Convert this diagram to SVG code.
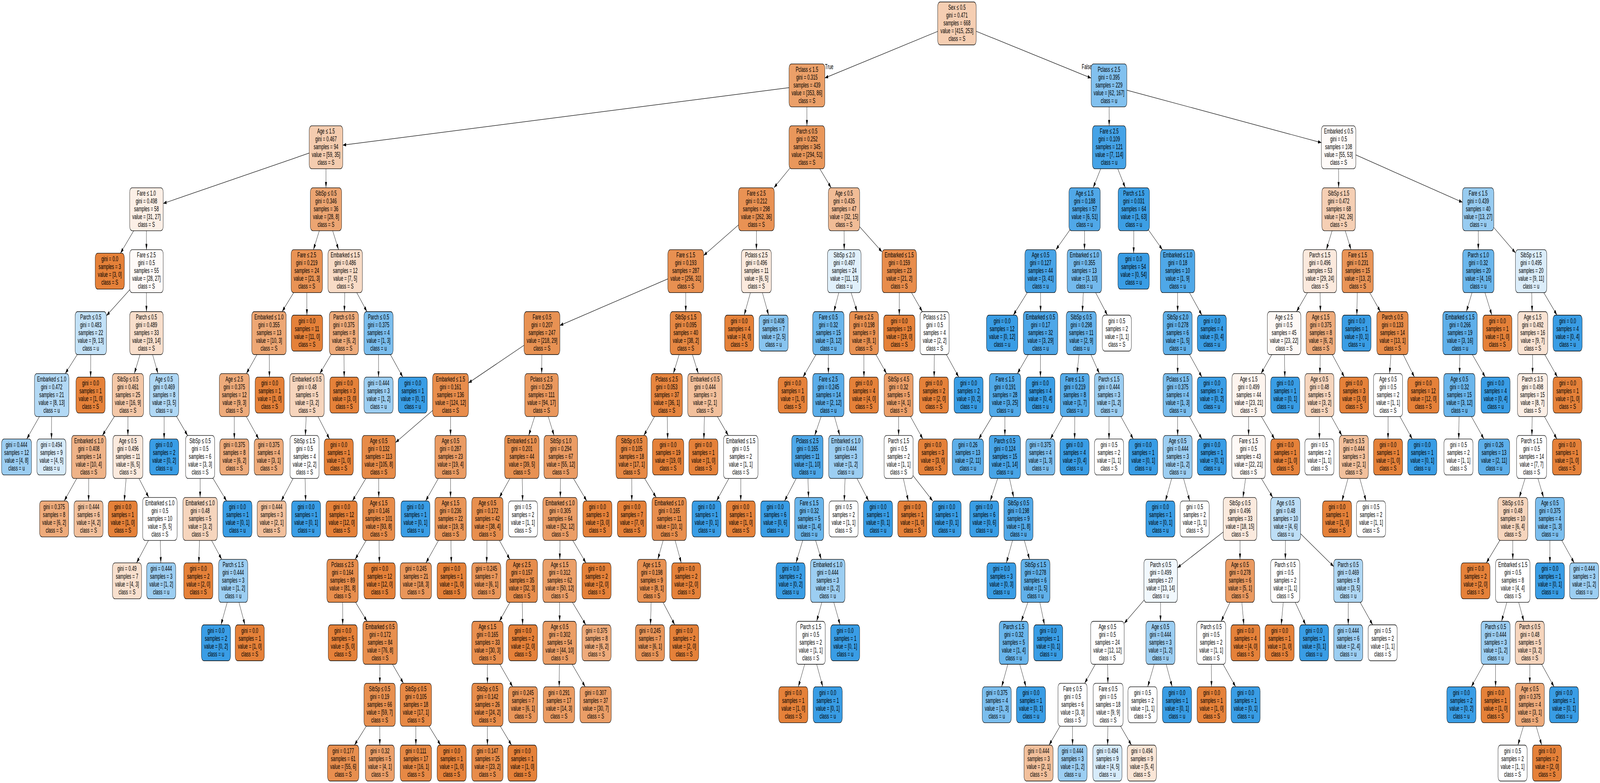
<svg xmlns="http://www.w3.org/2000/svg" width="7156" height="2005" viewBox="0 0 7156 2005" preserveAspectRatio="none">
<style>
svg{width:100vw;height:100vh;display:block}
text{font-family:"Liberation Sans",Arial,Helvetica,sans-serif;font-size:18.5px;text-anchor:middle;fill:#000}
rect.n{stroke:#000;stroke-width:1.3}
#edges path{stroke:#000;stroke-width:1.2;fill:none;marker-end:url(#ah)}
#edges text{text-anchor:start}
</style>
<defs>
<marker id="ah" markerWidth="16" markerHeight="10" refX="15" refY="4.5" orient="auto" markerUnits="userSpaceOnUse"><path d="M0 0L15 4.5L0 9z" fill="#000"/></marker>
</defs>
<rect width="7156" height="2005" fill="#fff"/>
<g id="edges">
<path d="M4280 60L3689 199.7"/><path d="M4280 60L4880 199.9"/><path d="M3609 218.6L1533 371.7"/><path d="M3609 218.6L3609 322.2"/><path d="M1458 377.2L730 521"/><path d="M1458 377.2L1458 480.8"/><path d="M655 535.8L538.6 648.4"/><path d="M655 535.8L655 639.4"/><path d="M655 694.4L476 808.4"/><path d="M655 694.4L655 798"/><path d="M406 853L291.7 956.6"/><path d="M406 853L405.3 965.6"/><path d="M231 1011.6L119.5 1124.2"/><path d="M231 1011.6L230.3 1124.2"/><path d="M655 853L600.8 956.6"/><path d="M655 853L706.6 956.6"/><path d="M572 1011.6L457.7 1115.2"/><path d="M572 1011.6L572 1115.2"/><path d="M397 1170.2L287 1282.8"/><path d="M397 1170.2L396.3 1282.8"/><path d="M572 1170.2L555.7 1282.8"/><path d="M572 1170.2L665.4 1273.8"/><path d="M715 1328.8L610.6 1441.4"/><path d="M715 1328.8L719.3 1441.4"/><path d="M734 1011.6L734 1124.2"/><path d="M734 1011.6L839.2 1115.2"/><path d="M895 1170.2L895 1273.8"/><path d="M895 1170.2L1013.6 1282.8"/><path d="M895 1328.8L889.3 1441.4"/><path d="M895 1328.8L991.7 1432.4"/><path d="M1043 1487.4L988.3 1600"/><path d="M1043 1487.4L1095.5 1600"/><path d="M1458 535.8L1401.8 639.4"/><path d="M1458 535.8L1514.2 639.4"/><path d="M1372 694.4L1261.6 798"/><path d="M1372 694.4L1372.7 807"/><path d="M1203 853L1101.8 956.6"/><path d="M1203 853L1205.1 965.6"/><path d="M1048 1011.6L1048 1124.2"/><path d="M1048 1011.6L1157.3 1124.2"/><path d="M1544 694.4L1540.1 798"/><path d="M1544 694.4L1641.3 798"/><path d="M1538 853L1430.2 956.6"/><path d="M1538 853L1539.4 965.6"/><path d="M1373 1011.6L1365.8 1115.2"/><path d="M1373 1011.6L1473.8 1124.2"/><path d="M1362 1170.2L1257.6 1282.8"/><path d="M1362 1170.2L1367 1282.8"/><path d="M1693 853L1693 965.6"/><path d="M1693 853L1801.6 965.6"/>
<path d="M3609 377.2L3461.4 480.8"/><path d="M3609 377.2L3717.4 480.8"/><path d="M3383 535.8L3147 654.2"/><path d="M3383 535.8L3383 639.4"/><path d="M3067 694.4L2504 833.3"/><path d="M3067 694.4L3067 798"/><path d="M2424 853L2095 980.6"/><path d="M2424 853L2422.7 956.6"/><path d="M2015 1011.6L1769 1133.1"/><path d="M2015 1011.6L2015 1115.2"/><path d="M1694 1170.2L1576.1 1282.8"/><path d="M1694 1170.2L1694 1273.8"/><path d="M1694 1328.8L1588.2 1432.4"/><path d="M1694 1328.8L1696.8 1441.4"/><path d="M1532 1487.4L1532.7 1600"/><path d="M1532 1487.4L1641.7 1591"/><path d="M1700 1646L1698.7 1749.6"/><path d="M1700 1646L1804.5 1749.6"/><path d="M1698 1804.6L1585.2 1908"/><path d="M1698 1804.6L1698.7 1908"/><path d="M1860 1804.6L1860 1908"/><path d="M1860 1804.6L1970.7 1908"/><path d="M2015 1170.2L1903.5 1282.8"/><path d="M2015 1170.2L2015 1273.8"/><path d="M2015 1328.8L1905 1441.4"/><path d="M2015 1328.8L2018.5 1441.4"/><path d="M2422 1011.6L2364.5 1115.2"/><path d="M2422 1011.6L2478.2 1115.2"/><path d="M2334 1170.2L2233.4 1273.8"/><path d="M2334 1170.2L2337.5 1282.8"/><path d="M2180 1328.8L2176.5 1441.4"/><path d="M2180 1328.8L2280.6 1432.4"/><path d="M2334 1487.4L2233.4 1591"/><path d="M2334 1487.4L2337.5 1600"/><path d="M2180 1646L2180 1749.6"/><path d="M2180 1646L2292.9 1758.6"/><path d="M2180 1804.6L2180 1908"/><path d="M2180 1804.6L2288 1908"/><path d="M2508 1170.2L2506 1273.8"/><path d="M2508 1170.2L2624.4 1282.8"/><path d="M2505 1328.8L2503.7 1432.4"/><path d="M2505 1328.8L2620.7 1441.4"/><path d="M2503 1487.4L2503 1591"/><path d="M2503 1487.4L2620.1 1600"/><path d="M2503 1646L2500.9 1758.6"/><path d="M2503 1646L2617.3 1758.6"/><path d="M3067 853L3011.5 956.6"/><path d="M3067 853L3123.2 956.6"/><path d="M2982 1011.6L2879.4 1115.2"/><path d="M2982 1011.6L2986.3 1124.2"/><path d="M2825 1170.2L2825.7 1282.8"/><path d="M2825 1170.2L2934.7 1273.8"/><path d="M2993 1328.8L2942 1432.4"/><path d="M2993 1328.8L3047 1441.4"/><path d="M2915 1487.4L2909.3 1600"/><path d="M2915 1487.4L3018 1600"/><path d="M3153 1011.6L3148 1124.2"/><path d="M3153 1011.6L3257.5 1115.2"/><path d="M3313 1170.2L3204.4 1282.8"/><path d="M3313 1170.2L3313 1282.8"/><path d="M3383 694.4L3328.3 807"/><path d="M3383 694.4L3437.7 807"/>
<path d="M3775 535.8L3775.7 639.4"/><path d="M3775 535.8L3945 645"/><path d="M3776 694.4L3729.6 798"/><path d="M3776 694.4L3833.5 798"/><path d="M3705 853L3591.4 965.6"/><path d="M3705 853L3705 956.6"/><path d="M3705 1011.6L3643.6 1115.2"/><path d="M3705 1011.6L3756 1115.2"/><path d="M3611 1170.2L3508.8 1282.8"/><path d="M3611 1170.2L3616.2 1273.8"/><path d="M3619 1328.8L3560.1 1441.4"/><path d="M3619 1328.8L3673.2 1432.4"/><path d="M3702 1487.4L3652.4 1591"/><path d="M3702 1487.4L3757.4 1600"/><path d="M3626 1646L3570.6 1758.6"/><path d="M3626 1646L3680 1758.6"/><path d="M3783 1170.2L3775.9 1282.8"/><path d="M3783 1170.2L3885.2 1282.8"/><path d="M3864 853L3864 965.6"/><path d="M3864 853L3965.2 956.6"/><path d="M4019 1011.6L4019 1115.2"/><path d="M4019 1011.6L4127.6 1124.2"/><path d="M4019 1170.2L4062.3 1282.8"/><path d="M4019 1170.2L4171.6 1282.8"/><path d="M4022 694.4L4022 807"/><path d="M4022 694.4L4125.2 798"/><path d="M4180 853L4177.9 965.6"/><path d="M4180 853L4287.9 965.6"/>
<path d="M4960 218.6L4960.7 322.2"/><path d="M4960 218.6L5910 365.3"/><path d="M4961 377.2L4889.1 480.8"/><path d="M4961 377.2L5032.9 480.8"/><path d="M4851 535.8L4722.3 639.4"/><path d="M4851 535.8L4850.3 639.4"/><path d="M4654 694.4L4531.9 807"/><path d="M4654 694.4L4654 798"/><path d="M4654 853L4550.1 956.6"/><path d="M4654 853L4653.3 965.6"/><path d="M4495 1011.6L4377.1 1124.2"/><path d="M4495 1011.6L4494.3 1115.2"/><path d="M4494 1170.2L4428.7 1282.8"/><path d="M4494 1170.2L4533.8 1273.8"/><path d="M4555 1328.8L4501 1441.4"/><path d="M4555 1328.8L4604.6 1432.4"/><path d="M4631 1487.4L4567.6 1591"/><path d="M4631 1487.4L4671.5 1600"/><path d="M4534 1646L4480 1758.6"/><path d="M4534 1646L4588.7 1758.6"/><path d="M4850 694.4L4840.9 798"/><path d="M4850 694.4L4953 807"/><path d="M4836 853L4817.1 956.6"/><path d="M4836 853L4917 956.6"/><path d="M4807 1011.6L4697.7 1124.2"/><path d="M4807 1011.6L4806.3 1124.2"/><path d="M4960 1011.6L4960 1124.2"/><path d="M4960 1011.6L5068.6 1124.2"/><path d="M5071 535.8L5070.3 648.4"/><path d="M5071 535.8L5199 639.4"/><path d="M5267 694.4L5267 798"/><path d="M5267 694.4L5375.6 807"/><path d="M5267 853L5267 956.6"/><path d="M5267 853L5375.6 965.6"/><path d="M5267 1011.6L5267 1115.2"/><path d="M5267 1011.6L5375.6 1124.2"/><path d="M5267 1170.2L5212.3 1282.8"/><path d="M5267 1170.2L5321 1282.8"/>
<path d="M5987 377.2L5987 480.8"/><path d="M5987 377.2L6541 518"/><path d="M5987 535.8L5932.1 639.4"/><path d="M5987 535.8L6042.5 639.4"/><path d="M5903 694.4L5798.5 798"/><path d="M5903 694.4L5905.6 798"/><path d="M5743 853L5639.8 956.6"/><path d="M5743 853L5746.5 965.6"/><path d="M5585 1011.6L5584.3 1115.2"/><path d="M5585 1011.6L5700.7 1124.2"/><path d="M5584 1170.2L5559.2 1273.8"/><path d="M5584 1170.2L5692.4 1273.8"/><path d="M5546 1328.8L5266 1453.9"/><path d="M5546 1328.8L5546 1432.4"/><path d="M5191 1487.4L5028 1596"/><path d="M5191 1487.4L5190.3 1591"/><path d="M4953 1646L4851.1 1749.6"/><path d="M4953 1646L4955 1749.6"/><path d="M4797 1804.6L4691.8 1908"/><path d="M4797 1804.6L4797 1908"/><path d="M4956 1804.6L4953.9 1908"/><path d="M4956 1804.6L5060.5 1908"/><path d="M5190 1646L5133.2 1758.6"/><path d="M5190 1646L5242.5 1758.6"/><path d="M5546 1487.4L5461.7 1591"/><path d="M5546 1487.4L5563 1600"/><path d="M5417 1646L5418.4 1758.6"/><path d="M5417 1646L5526.3 1758.6"/><path d="M5750 1328.8L5748.7 1432.4"/><path d="M5750 1328.8L5965.3 1450.7"/><path d="M5748 1487.4L5730.3 1600"/><path d="M5748 1487.4L5839.6 1600"/><path d="M6030 1487.4L6030 1600"/><path d="M6030 1487.4L6139.3 1600"/><path d="M5907 853L5903.1 956.6"/><path d="M5907 853L6012.8 965.6"/><path d="M5901 1011.6L5901 1124.2"/><path d="M5901 1011.6L6001.6 1115.2"/><path d="M6055 1170.2L6001.8 1282.8"/><path d="M6055 1170.2L6109.7 1282.8"/><path d="M6072 694.4L6068.5 807"/><path d="M6072 694.4L6173.9 798"/><path d="M6228 853L6214.9 956.6"/><path d="M6228 853L6326 965.6"/><path d="M6208 1011.6L6208 1124.2"/><path d="M6208 1011.6L6316.6 1124.2"/>
<path d="M6611 535.8L6611.7 639.4"/><path d="M6611 535.8L6778 647.6"/><path d="M6612 694.4L6558.4 798"/><path d="M6612 694.4L6672.3 807"/><path d="M6530 853L6528 956.6"/><path d="M6530 853L6642.9 965.6"/><path d="M6527 1011.6L6524.2 1124.2"/><path d="M6527 1011.6L6637 1124.2"/><path d="M6848 694.4L6852.6 798"/><path d="M6848 694.4L6963.7 807"/><path d="M6855 853L6854.3 956.6"/><path d="M6855 853L6965.8 965.6"/><path d="M6854 1011.6L6851.4 1115.2"/><path d="M6854 1011.6L6963.3 1124.2"/><path d="M6850 1170.2L6795.1 1273.8"/><path d="M6850 1170.2L6903.6 1273.8"/><path d="M6766 1328.8L6647.4 1441.4"/><path d="M6766 1328.8L6766 1432.4"/><path d="M6766 1487.4L6715.7 1591"/><path d="M6766 1487.4L6815.6 1591"/><path d="M6689 1646L6580.4 1758.6"/><path d="M6689 1646L6689 1758.6"/><path d="M6842 1646L6842 1749.6"/><path d="M6842 1646L6950.6 1758.6"/><path d="M6842 1804.6L6788.7 1908"/><path d="M6842 1804.6L6895.3 1908"/><path d="M6932 1328.8L6932 1441.4"/><path d="M6932 1328.8L7040.6 1441.4"/>
<text x="3690" y="177">True</text><text x="4838" y="177">False</text>
</g>
<g id="nodes">
<g id="n0" transform="translate(4280,5)"><rect class="n" x="-86" width="172" height="110" rx="11" fill="#f5ceb2"/><text y="20">Sex ≤ 0.5</text><text y="40">gini = 0.471</text><text y="60">samples = 668</text><text y="80">value = [415, 253]</text><text y="100">class = S</text></g>
<g id="n1" transform="translate(3609,163.6)"><rect class="n" x="-80" width="160" height="110" rx="11" fill="#eba069"/><text y="20">Pclass ≤ 1.5</text><text y="40">gini = 0.315</text><text y="60">samples = 439</text><text y="80">value = [353, 86]</text><text y="100">class = S</text></g>
<g id="n2" transform="translate(1458,322.2)"><rect class="n" x="-75" width="150" height="110" rx="11" fill="#f4ccaf"/><text y="20">Age ≤ 1.5</text><text y="40">gini = 0.467</text><text y="60">samples = 94</text><text y="80">value = [59, 35]</text><text y="100">class = S</text></g>
<g id="n3" transform="translate(655,480.8)"><rect class="n" x="-75" width="150" height="110" rx="11" fill="#fcefe6"/><text y="20">Fare ≤ 1.0</text><text y="40">gini = 0.498</text><text y="60">samples = 58</text><text y="80">value = [31, 27]</text><text y="100">class = S</text></g>
<g id="n4" transform="translate(491,648.4)"><rect class="n" x="-65" width="130" height="92" rx="11" fill="#e58139"/><text y="21">gini = 0.0</text><text y="41">samples = 3</text><text y="61">value = [3, 0]</text><text y="81">class = S</text></g>
<g id="n5" transform="translate(655,639.4)"><rect class="n" x="-75" width="150" height="110" rx="11" fill="#fefaf8"/><text y="20">Fare ≤ 2.5</text><text y="40">gini = 0.5</text><text y="60">samples = 55</text><text y="80">value = [28, 27]</text><text y="100">class = S</text></g>
<g id="n6" transform="translate(406,798)"><rect class="n" x="-70" width="140" height="110" rx="11" fill="#c2e1f7"/><text y="20">Parch ≤ 0.5</text><text y="40">gini = 0.483</text><text y="60">samples = 22</text><text y="80">value = [9, 13]</text><text y="100">class = u</text></g>
<g id="n7" transform="translate(231,956.6)"><rect class="n" x="-77" width="154" height="110" rx="11" fill="#b3d9f5"/><text y="20">Embarked ≤ 1.0</text><text y="40">gini = 0.472</text><text y="60">samples = 21</text><text y="80">value = [8, 13]</text><text y="100">class = u</text></g>
<g id="n8" transform="translate(74,1124.2)"><rect class="n" x="-67" width="134" height="92" rx="11" fill="#9ccef2"/><text y="21">gini = 0.444</text><text y="41">samples = 12</text><text y="61">value = [4, 8]</text><text y="81">class = u</text></g>
<g id="n9" transform="translate(230,1124.2)"><rect class="n" x="-65" width="130" height="92" rx="11" fill="#d7ebfa"/><text y="21">gini = 0.494</text><text y="41">samples = 9</text><text y="61">value = [4, 5]</text><text y="81">class = u</text></g>
<g id="n10" transform="translate(405,965.6)"><rect class="n" x="-65" width="130" height="92" rx="11" fill="#e58139"/><text y="21">gini = 0.0</text><text y="41">samples = 1</text><text y="61">value = [1, 0]</text><text y="81">class = S</text></g>
<g id="n11" transform="translate(655,798)"><rect class="n" x="-75" width="150" height="110" rx="11" fill="#f8decb"/><text y="20">Parch ≤ 0.5</text><text y="40">gini = 0.489</text><text y="60">samples = 33</text><text y="80">value = [19, 14]</text><text y="100">class = S</text></g>
<g id="n12" transform="translate(572,956.6)"><rect class="n" x="-70" width="140" height="110" rx="11" fill="#f4c8a8"/><text y="20">SibSp ≤ 0.5</text><text y="40">gini = 0.461</text><text y="60">samples = 25</text><text y="80">value = [16, 9]</text><text y="100">class = S</text></g>
<g id="n13" transform="translate(397,1115.2)"><rect class="n" x="-77" width="154" height="110" rx="11" fill="#efb388"/><text y="20">Embarked ≤ 1.0</text><text y="40">gini = 0.408</text><text y="60">samples = 14</text><text y="80">value = [10, 4]</text><text y="100">class = S</text></g>
<g id="n14" transform="translate(242,1282.8)"><rect class="n" x="-65" width="130" height="92" rx="11" fill="#eeab7b"/><text y="21">gini = 0.375</text><text y="41">samples = 8</text><text y="61">value = [6, 2]</text><text y="81">class = S</text></g>
<g id="n15" transform="translate(396,1282.8)"><rect class="n" x="-65" width="130" height="92" rx="11" fill="#f2c09c"/><text y="21">gini = 0.444</text><text y="41">samples = 6</text><text y="61">value = [4, 2]</text><text y="81">class = S</text></g>
<g id="n16" transform="translate(572,1115.2)"><rect class="n" x="-67" width="134" height="110" rx="11" fill="#fbeade"/><text y="20">Age ≤ 0.5</text><text y="40">gini = 0.496</text><text y="60">samples = 11</text><text y="80">value = [6, 5]</text><text y="100">class = S</text></g>
<g id="n17" transform="translate(549,1282.8)"><rect class="n" x="-65" width="130" height="92" rx="11" fill="#e58139"/><text y="21">gini = 0.0</text><text y="41">samples = 1</text><text y="61">value = [1, 0]</text><text y="81">class = S</text></g>
<g id="n18" transform="translate(715,1273.8)"><rect class="n" x="-77" width="154" height="110" rx="11" fill="#ffffff"/><text y="20">Embarked ≤ 1.0</text><text y="40">gini = 0.5</text><text y="60">samples = 10</text><text y="80">value = [5, 5]</text><text y="100">class = S</text></g>
<g id="n19" transform="translate(568,1441.4)"><rect class="n" x="-65" width="130" height="92" rx="11" fill="#f8e0ce"/><text y="21">gini = 0.49</text><text y="41">samples = 7</text><text y="61">value = [4, 3]</text><text y="81">class = S</text></g>
<g id="n20" transform="translate(721,1441.4)"><rect class="n" x="-65" width="130" height="92" rx="11" fill="#9ccef2"/><text y="21">gini = 0.444</text><text y="41">samples = 3</text><text y="61">value = [1, 2]</text><text y="81">class = u</text></g>
<g id="n21" transform="translate(734,956.6)"><rect class="n" x="-65" width="130" height="110" rx="11" fill="#b0d8f5"/><text y="20">Age ≤ 0.5</text><text y="40">gini = 0.469</text><text y="60">samples = 8</text><text y="80">value = [3, 5]</text><text y="100">class = u</text></g>
<g id="n22" transform="translate(734,1124.2)"><rect class="n" x="-65" width="130" height="92" rx="11" fill="#399de5"/><text y="21">gini = 0.0</text><text y="41">samples = 2</text><text y="61">value = [0, 2]</text><text y="81">class = u</text></g>
<g id="n23" transform="translate(895,1115.2)"><rect class="n" x="-65" width="130" height="110" rx="11" fill="#ffffff"/><text y="20">SibSp ≤ 0.5</text><text y="40">gini = 0.5</text><text y="60">samples = 6</text><text y="80">value = [3, 3]</text><text y="100">class = S</text></g>
<g id="n24" transform="translate(895,1273.8)"><rect class="n" x="-77" width="154" height="110" rx="11" fill="#f6d5bd"/><text y="20">Embarked ≤ 1.0</text><text y="40">gini = 0.48</text><text y="60">samples = 5</text><text y="80">value = [3, 2]</text><text y="100">class = S</text></g>
<g id="n25" transform="translate(887,1441.4)"><rect class="n" x="-65" width="130" height="92" rx="11" fill="#e58139"/><text y="21">gini = 0.0</text><text y="41">samples = 2</text><text y="61">value = [2, 0]</text><text y="81">class = S</text></g>
<g id="n26" transform="translate(1043,1432.4)"><rect class="n" x="-65" width="130" height="110" rx="11" fill="#9ccef2"/><text y="20">Parch ≤ 1.5</text><text y="40">gini = 0.444</text><text y="60">samples = 3</text><text y="80">value = [1, 2]</text><text y="100">class = u</text></g>
<g id="n27" transform="translate(966,1600)"><rect class="n" x="-65" width="130" height="92" rx="11" fill="#399de5"/><text y="21">gini = 0.0</text><text y="41">samples = 2</text><text y="61">value = [0, 2]</text><text y="81">class = u</text></g>
<g id="n28" transform="translate(1117,1600)"><rect class="n" x="-65" width="130" height="92" rx="11" fill="#e58139"/><text y="21">gini = 0.0</text><text y="41">samples = 1</text><text y="61">value = [1, 0]</text><text y="81">class = S</text></g>
<g id="n29" transform="translate(1062,1282.8)"><rect class="n" x="-65" width="130" height="92" rx="11" fill="#399de5"/><text y="21">gini = 0.0</text><text y="41">samples = 1</text><text y="61">value = [0, 1]</text><text y="81">class = u</text></g>
<g id="n30" transform="translate(1458,480.8)"><rect class="n" x="-70" width="140" height="110" rx="11" fill="#eca572"/><text y="20">SibSp ≤ 0.5</text><text y="40">gini = 0.346</text><text y="60">samples = 36</text><text y="80">value = [28, 8]</text><text y="100">class = S</text></g>
<g id="n31" transform="translate(1372,639.4)"><rect class="n" x="-70" width="140" height="110" rx="11" fill="#e99355"/><text y="20">Fare ≤ 2.5</text><text y="40">gini = 0.219</text><text y="60">samples = 24</text><text y="80">value = [21, 3]</text><text y="100">class = S</text></g>
<g id="n32" transform="translate(1203,798)"><rect class="n" x="-77" width="154" height="110" rx="11" fill="#eda774"/><text y="20">Embarked ≤ 1.0</text><text y="40">gini = 0.355</text><text y="60">samples = 13</text><text y="80">value = [10, 3]</text><text y="100">class = S</text></g>
<g id="n33" transform="translate(1048,956.6)"><rect class="n" x="-67" width="134" height="110" rx="11" fill="#eeab7b"/><text y="20">Age ≤ 2.5</text><text y="40">gini = 0.375</text><text y="60">samples = 12</text><text y="80">value = [9, 3]</text><text y="100">class = S</text></g>
<g id="n34" transform="translate(1048,1124.2)"><rect class="n" x="-65" width="130" height="92" rx="11" fill="#eeab7b"/><text y="21">gini = 0.375</text><text y="41">samples = 8</text><text y="61">value = [6, 2]</text><text y="81">class = S</text></g>
<g id="n35" transform="translate(1202,1124.2)"><rect class="n" x="-65" width="130" height="92" rx="11" fill="#eeab7b"/><text y="21">gini = 0.375</text><text y="41">samples = 4</text><text y="61">value = [3, 1]</text><text y="81">class = S</text></g>
<g id="n36" transform="translate(1206,965.6)"><rect class="n" x="-65" width="130" height="92" rx="11" fill="#e58139"/><text y="21">gini = 0.0</text><text y="41">samples = 1</text><text y="61">value = [1, 0]</text><text y="81">class = S</text></g>
<g id="n37" transform="translate(1373,807)"><rect class="n" x="-70" width="140" height="92" rx="11" fill="#e58139"/><text y="21">gini = 0.0</text><text y="41">samples = 11</text><text y="61">value = [11, 0]</text><text y="81">class = S</text></g>
<g id="n38" transform="translate(1544,639.4)"><rect class="n" x="-77" width="154" height="110" rx="11" fill="#f8dbc6"/><text y="20">Embarked ≤ 1.5</text><text y="40">gini = 0.486</text><text y="60">samples = 12</text><text y="80">value = [7, 5]</text><text y="100">class = S</text></g>
<g id="n39" transform="translate(1538,798)"><rect class="n" x="-65" width="130" height="110" rx="11" fill="#eeab7b"/><text y="20">Parch ≤ 0.5</text><text y="40">gini = 0.375</text><text y="60">samples = 8</text><text y="80">value = [6, 2]</text><text y="100">class = S</text></g>
<g id="n40" transform="translate(1373,956.6)"><rect class="n" x="-77" width="154" height="110" rx="11" fill="#f6d5bd"/><text y="20">Embarked ≤ 0.5</text><text y="40">gini = 0.48</text><text y="60">samples = 5</text><text y="80">value = [3, 2]</text><text y="100">class = S</text></g>
<g id="n41" transform="translate(1362,1115.2)"><rect class="n" x="-65" width="130" height="110" rx="11" fill="#ffffff"/><text y="20">SibSp ≤ 1.5</text><text y="40">gini = 0.5</text><text y="60">samples = 4</text><text y="80">value = [2, 2]</text><text y="100">class = S</text></g>
<g id="n42" transform="translate(1215,1282.8)"><rect class="n" x="-65" width="130" height="92" rx="11" fill="#f2c09c"/><text y="21">gini = 0.444</text><text y="41">samples = 3</text><text y="61">value = [2, 1]</text><text y="81">class = S</text></g>
<g id="n43" transform="translate(1369,1282.8)"><rect class="n" x="-65" width="130" height="92" rx="11" fill="#399de5"/><text y="21">gini = 0.0</text><text y="41">samples = 1</text><text y="61">value = [0, 1]</text><text y="81">class = u</text></g>
<g id="n44" transform="translate(1515,1124.2)"><rect class="n" x="-65" width="130" height="92" rx="11" fill="#e58139"/><text y="21">gini = 0.0</text><text y="41">samples = 1</text><text y="61">value = [1, 0]</text><text y="81">class = S</text></g>
<g id="n45" transform="translate(1540,965.6)"><rect class="n" x="-65" width="130" height="92" rx="11" fill="#e58139"/><text y="21">gini = 0.0</text><text y="41">samples = 3</text><text y="61">value = [3, 0]</text><text y="81">class = S</text></g>
<g id="n46" transform="translate(1693,798)"><rect class="n" x="-65" width="130" height="110" rx="11" fill="#7bbeee"/><text y="20">Parch ≤ 0.5</text><text y="40">gini = 0.375</text><text y="60">samples = 4</text><text y="80">value = [1, 3]</text><text y="100">class = u</text></g>
<g id="n47" transform="translate(1693,965.6)"><rect class="n" x="-65" width="130" height="92" rx="11" fill="#9ccef2"/><text y="21">gini = 0.444</text><text y="41">samples = 3</text><text y="61">value = [1, 2]</text><text y="81">class = u</text></g>
<g id="n48" transform="translate(1846,965.6)"><rect class="n" x="-65" width="130" height="92" rx="11" fill="#399de5"/><text y="21">gini = 0.0</text><text y="41">samples = 1</text><text y="61">value = [0, 1]</text><text y="81">class = u</text></g>
<g id="n49" transform="translate(3609,322.2)"><rect class="n" x="-80" width="160" height="110" rx="11" fill="#e9975b"/><text y="20">Parch ≤ 0.5</text><text y="40">gini = 0.252</text><text y="60">samples = 345</text><text y="80">value = [294, 51]</text><text y="100">class = S</text></g>
<g id="n50" transform="translate(3383,480.8)"><rect class="n" x="-80" width="160" height="110" rx="11" fill="#e99254"/><text y="20">Fare ≤ 2.5</text><text y="40">gini = 0.212</text><text y="60">samples = 298</text><text y="80">value = [262, 36]</text><text y="100">class = S</text></g>
<g id="n51" transform="translate(3067,639.4)"><rect class="n" x="-80" width="160" height="110" rx="11" fill="#e89051"/><text y="20">Fare ≤ 1.5</text><text y="40">gini = 0.193</text><text y="60">samples = 287</text><text y="80">value = [256, 31]</text><text y="100">class = S</text></g>
<g id="n52" transform="translate(2424,798)"><rect class="n" x="-80" width="160" height="110" rx="11" fill="#e89253"/><text y="20">Fare ≤ 0.5</text><text y="40">gini = 0.207</text><text y="60">samples = 247</text><text y="80">value = [218, 29]</text><text y="100">class = S</text></g>
<g id="n53" transform="translate(2015,956.6)"><rect class="n" x="-80" width="160" height="110" rx="11" fill="#e88d4c"/><text y="20">Embarked ≤ 1.5</text><text y="40">gini = 0.161</text><text y="60">samples = 136</text><text y="80">value = [124, 12]</text><text y="100">class = S</text></g>
<g id="n54" transform="translate(1694,1115.2)"><rect class="n" x="-75" width="150" height="110" rx="11" fill="#e78b48"/><text y="20">Age ≤ 0.5</text><text y="40">gini = 0.132</text><text y="60">samples = 113</text><text y="80">value = [105, 8]</text><text y="100">class = S</text></g>
<g id="n55" transform="translate(1528,1282.8)"><rect class="n" x="-70" width="140" height="92" rx="11" fill="#e58139"/><text y="21">gini = 0.0</text><text y="41">samples = 12</text><text y="61">value = [12, 0]</text><text y="81">class = S</text></g>
<g id="n56" transform="translate(1694,1273.8)"><rect class="n" x="-72" width="144" height="110" rx="11" fill="#e78c4a"/><text y="20">Age ≤ 1.5</text><text y="40">gini = 0.146</text><text y="60">samples = 101</text><text y="80">value = [93, 8]</text><text y="100">class = S</text></g>
<g id="n57" transform="translate(1532,1432.4)"><rect class="n" x="-70" width="140" height="110" rx="11" fill="#e88e4d"/><text y="20">Pclass ≤ 2.5</text><text y="40">gini = 0.164</text><text y="60">samples = 89</text><text y="80">value = [81, 8]</text><text y="100">class = S</text></g>
<g id="n58" transform="translate(1533,1600)"><rect class="n" x="-65" width="130" height="92" rx="11" fill="#e58139"/><text y="21">gini = 0.0</text><text y="41">samples = 5</text><text y="61">value = [5, 0]</text><text y="81">class = S</text></g>
<g id="n59" transform="translate(1700,1591)"><rect class="n" x="-77" width="154" height="110" rx="11" fill="#e88f4e"/><text y="20">Embarked ≤ 0.5</text><text y="40">gini = 0.172</text><text y="60">samples = 84</text><text y="80">value = [76, 8]</text><text y="100">class = S</text></g>
<g id="n60" transform="translate(1698,1749.6)"><rect class="n" x="-70" width="140" height="110" rx="11" fill="#e89050"/><text y="20">SibSp ≤ 0.5</text><text y="40">gini = 0.19</text><text y="60">samples = 66</text><text y="80">value = [59, 7]</text><text y="100">class = S</text></g>
<g id="n61" transform="translate(1535,1908)"><rect class="n" x="-70" width="140" height="92" rx="11" fill="#e88f4f"/><text y="21">gini = 0.177</text><text y="41">samples = 61</text><text y="61">value = [55, 6]</text><text y="81">class = S</text></g>
<g id="n62" transform="translate(1699,1908)"><rect class="n" x="-65" width="130" height="92" rx="11" fill="#eca06a"/><text y="21">gini = 0.32</text><text y="41">samples = 5</text><text y="61">value = [4, 1]</text><text y="81">class = S</text></g>
<g id="n63" transform="translate(1860,1749.6)"><rect class="n" x="-70" width="140" height="110" rx="11" fill="#e78945"/><text y="20">SibSp ≤ 0.5</text><text y="40">gini = 0.105</text><text y="60">samples = 18</text><text y="80">value = [17, 1]</text><text y="100">class = S</text></g>
<g id="n64" transform="translate(1860,1908)"><rect class="n" x="-70" width="140" height="92" rx="11" fill="#e78945"/><text y="21">gini = 0.111</text><text y="41">samples = 17</text><text y="61">value = [16, 1]</text><text y="81">class = S</text></g>
<g id="n65" transform="translate(2020,1908)"><rect class="n" x="-65" width="130" height="92" rx="11" fill="#e58139"/><text y="21">gini = 0.0</text><text y="41">samples = 1</text><text y="61">value = [1, 0]</text><text y="81">class = S</text></g>
<g id="n66" transform="translate(1698,1441.4)"><rect class="n" x="-70" width="140" height="92" rx="11" fill="#e58139"/><text y="21">gini = 0.0</text><text y="41">samples = 12</text><text y="61">value = [12, 0]</text><text y="81">class = S</text></g>
<g id="n67" transform="translate(2015,1115.2)"><rect class="n" x="-70" width="140" height="110" rx="11" fill="#ea9b63"/><text y="20">Age ≤ 0.5</text><text y="40">gini = 0.287</text><text y="60">samples = 23</text><text y="80">value = [19, 4]</text><text y="100">class = S</text></g>
<g id="n68" transform="translate(1858,1282.8)"><rect class="n" x="-65" width="130" height="92" rx="11" fill="#399de5"/><text y="21">gini = 0.0</text><text y="41">samples = 1</text><text y="61">value = [0, 1]</text><text y="81">class = u</text></g>
<g id="n69" transform="translate(2015,1273.8)"><rect class="n" x="-70" width="140" height="110" rx="11" fill="#e99558"/><text y="20">Age ≤ 1.5</text><text y="40">gini = 0.236</text><text y="60">samples = 22</text><text y="80">value = [19, 3]</text><text y="100">class = S</text></g>
<g id="n70" transform="translate(1860,1441.4)"><rect class="n" x="-70" width="140" height="92" rx="11" fill="#e9965a"/><text y="21">gini = 0.245</text><text y="41">samples = 21</text><text y="61">value = [18, 3]</text><text y="81">class = S</text></g>
<g id="n71" transform="translate(2020,1441.4)"><rect class="n" x="-65" width="130" height="92" rx="11" fill="#e58139"/><text y="21">gini = 0.0</text><text y="41">samples = 1</text><text y="61">value = [1, 0]</text><text y="81">class = S</text></g>
<g id="n72" transform="translate(2422,956.6)"><rect class="n" x="-75" width="150" height="110" rx="11" fill="#ea985d"/><text y="20">Pclass ≤ 2.5</text><text y="40">gini = 0.259</text><text y="60">samples = 111</text><text y="80">value = [94, 17]</text><text y="100">class = S</text></g>
<g id="n73" transform="translate(2334,1115.2)"><rect class="n" x="-77" width="154" height="110" rx="11" fill="#e89152"/><text y="20">Embarked ≤ 1.0</text><text y="40">gini = 0.201</text><text y="60">samples = 44</text><text y="80">value = [39, 5]</text><text y="100">class = S</text></g>
<g id="n74" transform="translate(2180,1273.8)"><rect class="n" x="-70" width="140" height="110" rx="11" fill="#e88f4e"/><text y="20">Age ≤ 0.5</text><text y="40">gini = 0.172</text><text y="60">samples = 42</text><text y="80">value = [38, 4]</text><text y="100">class = S</text></g>
<g id="n75" transform="translate(2175,1441.4)"><rect class="n" x="-65" width="130" height="92" rx="11" fill="#e9965a"/><text y="21">gini = 0.245</text><text y="41">samples = 7</text><text y="61">value = [6, 1]</text><text y="81">class = S</text></g>
<g id="n76" transform="translate(2334,1432.4)"><rect class="n" x="-70" width="140" height="110" rx="11" fill="#e78d4c"/><text y="20">Age ≤ 2.5</text><text y="40">gini = 0.157</text><text y="60">samples = 35</text><text y="80">value = [32, 3]</text><text y="100">class = S</text></g>
<g id="n77" transform="translate(2180,1591)"><rect class="n" x="-70" width="140" height="110" rx="11" fill="#e88e4d"/><text y="20">Age ≤ 1.5</text><text y="40">gini = 0.165</text><text y="60">samples = 33</text><text y="80">value = [30, 3]</text><text y="100">class = S</text></g>
<g id="n78" transform="translate(2180,1749.6)"><rect class="n" x="-70" width="140" height="110" rx="11" fill="#e78c4a"/><text y="20">SibSp ≤ 0.5</text><text y="40">gini = 0.142</text><text y="60">samples = 26</text><text y="80">value = [24, 2]</text><text y="100">class = S</text></g>
<g id="n79" transform="translate(2180,1908)"><rect class="n" x="-70" width="140" height="92" rx="11" fill="#e78c4a"/><text y="21">gini = 0.147</text><text y="41">samples = 25</text><text y="61">value = [23, 2]</text><text y="81">class = S</text></g>
<g id="n80" transform="translate(2336,1908)"><rect class="n" x="-65" width="130" height="92" rx="11" fill="#e58139"/><text y="21">gini = 0.0</text><text y="41">samples = 1</text><text y="61">value = [1, 0]</text><text y="81">class = S</text></g>
<g id="n81" transform="translate(2339,1758.6)"><rect class="n" x="-65" width="130" height="92" rx="11" fill="#e9965a"/><text y="21">gini = 0.245</text><text y="41">samples = 7</text><text y="61">value = [6, 1]</text><text y="81">class = S</text></g>
<g id="n82" transform="translate(2339,1600)"><rect class="n" x="-65" width="130" height="92" rx="11" fill="#e58139"/><text y="21">gini = 0.0</text><text y="41">samples = 2</text><text y="61">value = [2, 0]</text><text y="81">class = S</text></g>
<g id="n83" transform="translate(2339,1282.8)"><rect class="n" x="-65" width="130" height="92" rx="11" fill="#ffffff"/><text y="21">gini = 0.5</text><text y="41">samples = 2</text><text y="61">value = [1, 1]</text><text y="81">class = S</text></g>
<g id="n84" transform="translate(2508,1115.2)"><rect class="n" x="-75" width="150" height="110" rx="11" fill="#eb9c64"/><text y="20">SibSp ≤ 1.0</text><text y="40">gini = 0.294</text><text y="60">samples = 67</text><text y="80">value = [55, 12]</text><text y="100">class = S</text></g>
<g id="n85" transform="translate(2505,1273.8)"><rect class="n" x="-77" width="154" height="110" rx="11" fill="#eb9e67"/><text y="20">Embarked ≤ 1.0</text><text y="40">gini = 0.305</text><text y="60">samples = 64</text><text y="80">value = [52, 12]</text><text y="100">class = S</text></g>
<g id="n86" transform="translate(2503,1432.4)"><rect class="n" x="-75" width="150" height="110" rx="11" fill="#eb9f68"/><text y="20">Age ≤ 1.5</text><text y="40">gini = 0.312</text><text y="60">samples = 62</text><text y="80">value = [50, 12]</text><text y="100">class = S</text></g>
<g id="n87" transform="translate(2503,1591)"><rect class="n" x="-75" width="150" height="110" rx="11" fill="#eb9e66"/><text y="20">Age ≤ 0.5</text><text y="40">gini = 0.302</text><text y="60">samples = 54</text><text y="80">value = [44, 10]</text><text y="100">class = S</text></g>
<g id="n88" transform="translate(2500,1758.6)"><rect class="n" x="-70" width="140" height="92" rx="11" fill="#eb9c63"/><text y="21">gini = 0.291</text><text y="41">samples = 17</text><text y="61">value = [14, 3]</text><text y="81">class = S</text></g>
<g id="n89" transform="translate(2664,1758.6)"><rect class="n" x="-70" width="140" height="92" rx="11" fill="#eb9e67"/><text y="21">gini = 0.307</text><text y="41">samples = 37</text><text y="61">value = [30, 7]</text><text y="81">class = S</text></g>
<g id="n90" transform="translate(2668,1600)"><rect class="n" x="-65" width="130" height="92" rx="11" fill="#eeab7b"/><text y="21">gini = 0.375</text><text y="41">samples = 8</text><text y="61">value = [6, 2]</text><text y="81">class = S</text></g>
<g id="n91" transform="translate(2668,1441.4)"><rect class="n" x="-65" width="130" height="92" rx="11" fill="#e58139"/><text y="21">gini = 0.0</text><text y="41">samples = 2</text><text y="61">value = [2, 0]</text><text y="81">class = S</text></g>
<g id="n92" transform="translate(2672,1282.8)"><rect class="n" x="-65" width="130" height="92" rx="11" fill="#e58139"/><text y="21">gini = 0.0</text><text y="41">samples = 3</text><text y="61">value = [3, 0]</text><text y="81">class = S</text></g>
<g id="n93" transform="translate(3067,798)"><rect class="n" x="-70" width="140" height="110" rx="11" fill="#e68843"/><text y="20">SibSp ≤ 1.5</text><text y="40">gini = 0.095</text><text y="60">samples = 40</text><text y="80">value = [38, 2]</text><text y="100">class = S</text></g>
<g id="n94" transform="translate(2982,956.6)"><rect class="n" x="-70" width="140" height="110" rx="11" fill="#e6853f"/><text y="20">Pclass ≤ 2.5</text><text y="40">gini = 0.053</text><text y="60">samples = 37</text><text y="80">value = [36, 1]</text><text y="100">class = S</text></g>
<g id="n95" transform="translate(2825,1115.2)"><rect class="n" x="-70" width="140" height="110" rx="11" fill="#e78945"/><text y="20">SibSp ≤ 0.5</text><text y="40">gini = 0.105</text><text y="60">samples = 18</text><text y="80">value = [17, 1]</text><text y="100">class = S</text></g>
<g id="n96" transform="translate(2826,1282.8)"><rect class="n" x="-65" width="130" height="92" rx="11" fill="#e58139"/><text y="21">gini = 0.0</text><text y="41">samples = 7</text><text y="61">value = [7, 0]</text><text y="81">class = S</text></g>
<g id="n97" transform="translate(2993,1273.8)"><rect class="n" x="-77" width="154" height="110" rx="11" fill="#e88e4d"/><text y="20">Embarked ≤ 1.0</text><text y="40">gini = 0.165</text><text y="60">samples = 11</text><text y="80">value = [10, 1]</text><text y="100">class = S</text></g>
<g id="n98" transform="translate(2915,1432.4)"><rect class="n" x="-65" width="130" height="110" rx="11" fill="#e89152"/><text y="20">Age ≤ 1.5</text><text y="40">gini = 0.198</text><text y="60">samples = 9</text><text y="80">value = [8, 1]</text><text y="100">class = S</text></g>
<g id="n99" transform="translate(2907,1600)"><rect class="n" x="-65" width="130" height="92" rx="11" fill="#e9965a"/><text y="21">gini = 0.245</text><text y="41">samples = 7</text><text y="61">value = [6, 1]</text><text y="81">class = S</text></g>
<g id="n100" transform="translate(3060,1600)"><rect class="n" x="-65" width="130" height="92" rx="11" fill="#e58139"/><text y="21">gini = 0.0</text><text y="41">samples = 2</text><text y="61">value = [2, 0]</text><text y="81">class = S</text></g>
<g id="n101" transform="translate(3069,1441.4)"><rect class="n" x="-65" width="130" height="92" rx="11" fill="#e58139"/><text y="21">gini = 0.0</text><text y="41">samples = 2</text><text y="61">value = [2, 0]</text><text y="81">class = S</text></g>
<g id="n102" transform="translate(2988,1124.2)"><rect class="n" x="-70" width="140" height="92" rx="11" fill="#e58139"/><text y="21">gini = 0.0</text><text y="41">samples = 19</text><text y="61">value = [19, 0]</text><text y="81">class = S</text></g>
<g id="n103" transform="translate(3153,956.6)"><rect class="n" x="-77" width="154" height="110" rx="11" fill="#f2c09c"/><text y="20">Embarked ≤ 0.5</text><text y="40">gini = 0.444</text><text y="60">samples = 3</text><text y="80">value = [2, 1]</text><text y="100">class = S</text></g>
<g id="n104" transform="translate(3146,1124.2)"><rect class="n" x="-65" width="130" height="92" rx="11" fill="#e58139"/><text y="21">gini = 0.0</text><text y="41">samples = 1</text><text y="61">value = [1, 0]</text><text y="81">class = S</text></g>
<g id="n105" transform="translate(3313,1115.2)"><rect class="n" x="-77" width="154" height="110" rx="11" fill="#ffffff"/><text y="20">Embarked ≤ 1.5</text><text y="40">gini = 0.5</text><text y="60">samples = 2</text><text y="80">value = [1, 1]</text><text y="100">class = S</text></g>
<g id="n106" transform="translate(3160,1282.8)"><rect class="n" x="-65" width="130" height="92" rx="11" fill="#399de5"/><text y="21">gini = 0.0</text><text y="41">samples = 1</text><text y="61">value = [0, 1]</text><text y="81">class = u</text></g>
<g id="n107" transform="translate(3313,1282.8)"><rect class="n" x="-65" width="130" height="92" rx="11" fill="#e58139"/><text y="21">gini = 0.0</text><text y="41">samples = 1</text><text y="61">value = [1, 0]</text><text y="81">class = S</text></g>
<g id="n108" transform="translate(3383,639.4)"><rect class="n" x="-67" width="134" height="110" rx="11" fill="#fbeade"/><text y="20">Pclass ≤ 2.5</text><text y="40">gini = 0.496</text><text y="60">samples = 11</text><text y="80">value = [6, 5]</text><text y="100">class = S</text></g>
<g id="n109" transform="translate(3306,807)"><rect class="n" x="-65" width="130" height="92" rx="11" fill="#e58139"/><text y="21">gini = 0.0</text><text y="41">samples = 4</text><text y="61">value = [4, 0]</text><text y="81">class = S</text></g>
<g id="n110" transform="translate(3460,807)"><rect class="n" x="-65" width="130" height="92" rx="11" fill="#88c4ef"/><text y="21">gini = 0.408</text><text y="41">samples = 7</text><text y="61">value = [2, 5]</text><text y="81">class = u</text></g>
<g id="n111" transform="translate(3775,480.8)"><rect class="n" x="-70" width="140" height="110" rx="11" fill="#f1bc96"/><text y="20">Age ≤ 0.5</text><text y="40">gini = 0.435</text><text y="60">samples = 47</text><text y="80">value = [32, 15]</text><text y="100">class = S</text></g>
<g id="n112" transform="translate(3776,639.4)"><rect class="n" x="-75" width="150" height="110" rx="11" fill="#e0f0fb"/><text y="20">SibSp ≤ 2.0</text><text y="40">gini = 0.497</text><text y="60">samples = 24</text><text y="80">value = [11, 13]</text><text y="100">class = u</text></g>
<g id="n113" transform="translate(3705,798)"><rect class="n" x="-70" width="140" height="110" rx="11" fill="#6ab6ec"/><text y="20">Fare ≤ 0.5</text><text y="40">gini = 0.32</text><text y="60">samples = 15</text><text y="80">value = [3, 12]</text><text y="100">class = u</text></g>
<g id="n114" transform="translate(3545,965.6)"><rect class="n" x="-65" width="130" height="92" rx="11" fill="#e58139"/><text y="21">gini = 0.0</text><text y="41">samples = 1</text><text y="61">value = [1, 0]</text><text y="81">class = S</text></g>
<g id="n115" transform="translate(3705,956.6)"><rect class="n" x="-70" width="140" height="110" rx="11" fill="#5aade9"/><text y="20">Fare ≤ 2.5</text><text y="40">gini = 0.245</text><text y="60">samples = 14</text><text y="80">value = [2, 12]</text><text y="100">class = u</text></g>
<g id="n116" transform="translate(3611,1115.2)"><rect class="n" x="-70" width="140" height="110" rx="11" fill="#4da7e8"/><text y="20">Pclass ≤ 2.5</text><text y="40">gini = 0.165</text><text y="60">samples = 11</text><text y="80">value = [1, 10]</text><text y="100">class = u</text></g>
<g id="n117" transform="translate(3467,1282.8)"><rect class="n" x="-65" width="130" height="92" rx="11" fill="#399de5"/><text y="21">gini = 0.0</text><text y="41">samples = 6</text><text y="61">value = [0, 6]</text><text y="81">class = u</text></g>
<g id="n118" transform="translate(3619,1273.8)"><rect class="n" x="-65" width="130" height="110" rx="11" fill="#6ab6ec"/><text y="20">Fare ≤ 1.5</text><text y="40">gini = 0.32</text><text y="60">samples = 5</text><text y="80">value = [1, 4]</text><text y="100">class = u</text></g>
<g id="n119" transform="translate(3536,1441.4)"><rect class="n" x="-65" width="130" height="92" rx="11" fill="#399de5"/><text y="21">gini = 0.0</text><text y="41">samples = 2</text><text y="61">value = [0, 2]</text><text y="81">class = u</text></g>
<g id="n120" transform="translate(3702,1432.4)"><rect class="n" x="-77" width="154" height="110" rx="11" fill="#9ccef2"/><text y="20">Embarked ≤ 1.0</text><text y="40">gini = 0.444</text><text y="60">samples = 3</text><text y="80">value = [1, 2]</text><text y="100">class = u</text></g>
<g id="n121" transform="translate(3626,1591)"><rect class="n" x="-65" width="130" height="110" rx="11" fill="#ffffff"/><text y="20">Parch ≤ 1.5</text><text y="40">gini = 0.5</text><text y="60">samples = 2</text><text y="80">value = [1, 1]</text><text y="100">class = S</text></g>
<g id="n122" transform="translate(3548,1758.6)"><rect class="n" x="-65" width="130" height="92" rx="11" fill="#e58139"/><text y="21">gini = 0.0</text><text y="41">samples = 1</text><text y="61">value = [1, 0]</text><text y="81">class = S</text></g>
<g id="n123" transform="translate(3702,1758.6)"><rect class="n" x="-65" width="130" height="92" rx="11" fill="#399de5"/><text y="21">gini = 0.0</text><text y="41">samples = 1</text><text y="61">value = [0, 1]</text><text y="81">class = u</text></g>
<g id="n124" transform="translate(3780,1600)"><rect class="n" x="-65" width="130" height="92" rx="11" fill="#399de5"/><text y="21">gini = 0.0</text><text y="41">samples = 1</text><text y="61">value = [0, 1]</text><text y="81">class = u</text></g>
<g id="n125" transform="translate(3783,1115.2)"><rect class="n" x="-77" width="154" height="110" rx="11" fill="#9ccef2"/><text y="20">Embarked ≤ 1.0</text><text y="40">gini = 0.444</text><text y="60">samples = 3</text><text y="80">value = [1, 2]</text><text y="100">class = u</text></g>
<g id="n126" transform="translate(3773,1282.8)"><rect class="n" x="-65" width="130" height="92" rx="11" fill="#ffffff"/><text y="21">gini = 0.5</text><text y="41">samples = 2</text><text y="61">value = [1, 1]</text><text y="81">class = S</text></g>
<g id="n127" transform="translate(3927,1282.8)"><rect class="n" x="-65" width="130" height="92" rx="11" fill="#399de5"/><text y="21">gini = 0.0</text><text y="41">samples = 1</text><text y="61">value = [0, 1]</text><text y="81">class = u</text></g>
<g id="n128" transform="translate(3864,798)"><rect class="n" x="-65" width="130" height="110" rx="11" fill="#e89152"/><text y="20">Fare ≤ 2.5</text><text y="40">gini = 0.198</text><text y="60">samples = 9</text><text y="80">value = [8, 1]</text><text y="100">class = S</text></g>
<g id="n129" transform="translate(3864,965.6)"><rect class="n" x="-65" width="130" height="92" rx="11" fill="#e58139"/><text y="21">gini = 0.0</text><text y="41">samples = 4</text><text y="61">value = [4, 0]</text><text y="81">class = S</text></g>
<g id="n130" transform="translate(4019,956.6)"><rect class="n" x="-65" width="130" height="110" rx="11" fill="#eca06a"/><text y="20">SibSp ≤ 4.5</text><text y="40">gini = 0.32</text><text y="60">samples = 5</text><text y="80">value = [4, 1]</text><text y="100">class = S</text></g>
<g id="n131" transform="translate(4019,1115.2)"><rect class="n" x="-65" width="130" height="110" rx="11" fill="#ffffff"/><text y="20">Parch ≤ 1.5</text><text y="40">gini = 0.5</text><text y="60">samples = 2</text><text y="80">value = [1, 1]</text><text y="100">class = S</text></g>
<g id="n132" transform="translate(4080,1282.8)"><rect class="n" x="-65" width="130" height="92" rx="11" fill="#e58139"/><text y="21">gini = 0.0</text><text y="41">samples = 1</text><text y="61">value = [1, 0]</text><text y="81">class = S</text></g>
<g id="n133" transform="translate(4234,1282.8)"><rect class="n" x="-65" width="130" height="92" rx="11" fill="#399de5"/><text y="21">gini = 0.0</text><text y="41">samples = 1</text><text y="61">value = [0, 1]</text><text y="81">class = u</text></g>
<g id="n134" transform="translate(4172,1124.2)"><rect class="n" x="-65" width="130" height="92" rx="11" fill="#e58139"/><text y="21">gini = 0.0</text><text y="41">samples = 3</text><text y="61">value = [3, 0]</text><text y="81">class = S</text></g>
<g id="n135" transform="translate(4022,639.4)"><rect class="n" x="-77" width="154" height="110" rx="11" fill="#e88d4c"/><text y="20">Embarked ≤ 1.5</text><text y="40">gini = 0.159</text><text y="60">samples = 23</text><text y="80">value = [21, 2]</text><text y="100">class = S</text></g>
<g id="n136" transform="translate(4022,807)"><rect class="n" x="-70" width="140" height="92" rx="11" fill="#e58139"/><text y="21">gini = 0.0</text><text y="41">samples = 19</text><text y="61">value = [19, 0]</text><text y="81">class = S</text></g>
<g id="n137" transform="translate(4180,798)"><rect class="n" x="-65" width="130" height="110" rx="11" fill="#ffffff"/><text y="20">Pclass ≤ 2.5</text><text y="40">gini = 0.5</text><text y="60">samples = 4</text><text y="80">value = [2, 2]</text><text y="100">class = S</text></g>
<g id="n138" transform="translate(4177,965.6)"><rect class="n" x="-65" width="130" height="92" rx="11" fill="#e58139"/><text y="21">gini = 0.0</text><text y="41">samples = 2</text><text y="61">value = [2, 0]</text><text y="81">class = S</text></g>
<g id="n139" transform="translate(4332,965.6)"><rect class="n" x="-65" width="130" height="92" rx="11" fill="#399de5"/><text y="21">gini = 0.0</text><text y="41">samples = 2</text><text y="61">value = [0, 2]</text><text y="81">class = u</text></g>
<g id="n140" transform="translate(4960,163.6)"><rect class="n" x="-80" width="160" height="110" rx="11" fill="#82c1ef"/><text y="20">Pclass ≤ 2.5</text><text y="40">gini = 0.395</text><text y="60">samples = 229</text><text y="80">value = [62, 167]</text><text y="100">class = u</text></g>
<g id="n141" transform="translate(4961,322.2)"><rect class="n" x="-75" width="150" height="110" rx="11" fill="#45a3e7"/><text y="20">Fare ≤ 2.5</text><text y="40">gini = 0.109</text><text y="60">samples = 121</text><text y="80">value = [7, 114]</text><text y="100">class = u</text></g>
<g id="n142" transform="translate(4851,480.8)"><rect class="n" x="-70" width="140" height="110" rx="11" fill="#50a8e8"/><text y="20">Age ≤ 1.5</text><text y="40">gini = 0.188</text><text y="60">samples = 57</text><text y="80">value = [6, 51]</text><text y="100">class = u</text></g>
<g id="n143" transform="translate(4654,639.4)"><rect class="n" x="-70" width="140" height="110" rx="11" fill="#48a4e7"/><text y="20">Age ≤ 0.5</text><text y="40">gini = 0.127</text><text y="60">samples = 44</text><text y="80">value = [3, 41]</text><text y="100">class = u</text></g>
<g id="n144" transform="translate(4482,807)"><rect class="n" x="-70" width="140" height="92" rx="11" fill="#399de5"/><text y="21">gini = 0.0</text><text y="41">samples = 12</text><text y="61">value = [0, 12]</text><text y="81">class = u</text></g>
<g id="n145" transform="translate(4654,798)"><rect class="n" x="-77" width="154" height="110" rx="11" fill="#4ea7e8"/><text y="20">Embarked ≤ 0.5</text><text y="40">gini = 0.17</text><text y="60">samples = 32</text><text y="80">value = [3, 29]</text><text y="100">class = u</text></g>
<g id="n146" transform="translate(4495,956.6)"><rect class="n" x="-70" width="140" height="110" rx="11" fill="#51a9e8"/><text y="20">Fare ≤ 1.5</text><text y="40">gini = 0.191</text><text y="60">samples = 28</text><text y="80">value = [3, 25]</text><text y="100">class = u</text></g>
<g id="n147" transform="translate(4329,1124.2)"><rect class="n" x="-70" width="140" height="92" rx="11" fill="#5dafea"/><text y="21">gini = 0.26</text><text y="41">samples = 13</text><text y="61">value = [2, 11]</text><text y="81">class = u</text></g>
<g id="n148" transform="translate(4494,1115.2)"><rect class="n" x="-70" width="140" height="110" rx="11" fill="#47a4e7"/><text y="20">Parch ≤ 0.5</text><text y="40">gini = 0.124</text><text y="60">samples = 15</text><text y="80">value = [1, 14]</text><text y="100">class = u</text></g>
<g id="n149" transform="translate(4402,1282.8)"><rect class="n" x="-65" width="130" height="92" rx="11" fill="#399de5"/><text y="21">gini = 0.0</text><text y="41">samples = 6</text><text y="61">value = [0, 6]</text><text y="81">class = u</text></g>
<g id="n150" transform="translate(4555,1273.8)"><rect class="n" x="-65" width="130" height="110" rx="11" fill="#52a9e8"/><text y="20">SibSp ≤ 0.5</text><text y="40">gini = 0.198</text><text y="60">samples = 9</text><text y="80">value = [1, 8]</text><text y="100">class = u</text></g>
<g id="n151" transform="translate(4479,1441.4)"><rect class="n" x="-65" width="130" height="92" rx="11" fill="#399de5"/><text y="21">gini = 0.0</text><text y="41">samples = 3</text><text y="61">value = [0, 3]</text><text y="81">class = u</text></g>
<g id="n152" transform="translate(4631,1432.4)"><rect class="n" x="-65" width="130" height="110" rx="11" fill="#61b1ea"/><text y="20">SibSp ≤ 1.5</text><text y="40">gini = 0.278</text><text y="60">samples = 6</text><text y="80">value = [1, 5]</text><text y="100">class = u</text></g>
<g id="n153" transform="translate(4534,1591)"><rect class="n" x="-65" width="130" height="110" rx="11" fill="#6ab6ec"/><text y="20">Parch ≤ 1.5</text><text y="40">gini = 0.32</text><text y="60">samples = 5</text><text y="80">value = [1, 4]</text><text y="100">class = u</text></g>
<g id="n154" transform="translate(4458,1758.6)"><rect class="n" x="-65" width="130" height="92" rx="11" fill="#7bbeee"/><text y="21">gini = 0.375</text><text y="41">samples = 4</text><text y="61">value = [1, 3]</text><text y="81">class = u</text></g>
<g id="n155" transform="translate(4611,1758.6)"><rect class="n" x="-65" width="130" height="92" rx="11" fill="#399de5"/><text y="21">gini = 0.0</text><text y="41">samples = 1</text><text y="61">value = [0, 1]</text><text y="81">class = u</text></g>
<g id="n156" transform="translate(4688,1600)"><rect class="n" x="-65" width="130" height="92" rx="11" fill="#399de5"/><text y="21">gini = 0.0</text><text y="41">samples = 1</text><text y="61">value = [0, 1]</text><text y="81">class = u</text></g>
<g id="n157" transform="translate(4653,965.6)"><rect class="n" x="-65" width="130" height="92" rx="11" fill="#399de5"/><text y="21">gini = 0.0</text><text y="41">samples = 4</text><text y="61">value = [0, 4]</text><text y="81">class = u</text></g>
<g id="n158" transform="translate(4850,639.4)"><rect class="n" x="-77" width="154" height="110" rx="11" fill="#74baed"/><text y="20">Embarked ≤ 1.0</text><text y="40">gini = 0.355</text><text y="60">samples = 13</text><text y="80">value = [3, 10]</text><text y="100">class = u</text></g>
<g id="n159" transform="translate(4836,798)"><rect class="n" x="-67" width="134" height="110" rx="11" fill="#65b3eb"/><text y="20">SibSp ≤ 0.5</text><text y="40">gini = 0.298</text><text y="60">samples = 11</text><text y="80">value = [2, 9]</text><text y="100">class = u</text></g>
<g id="n160" transform="translate(4807,956.6)"><rect class="n" x="-65" width="130" height="110" rx="11" fill="#55abe9"/><text y="20">Fare ≤ 1.5</text><text y="40">gini = 0.219</text><text y="60">samples = 8</text><text y="80">value = [1, 7]</text><text y="100">class = u</text></g>
<g id="n161" transform="translate(4653,1124.2)"><rect class="n" x="-65" width="130" height="92" rx="11" fill="#7bbeee"/><text y="21">gini = 0.375</text><text y="41">samples = 4</text><text y="61">value = [1, 3]</text><text y="81">class = u</text></g>
<g id="n162" transform="translate(4806,1124.2)"><rect class="n" x="-65" width="130" height="92" rx="11" fill="#399de5"/><text y="21">gini = 0.0</text><text y="41">samples = 4</text><text y="61">value = [0, 4]</text><text y="81">class = u</text></g>
<g id="n163" transform="translate(4960,956.6)"><rect class="n" x="-65" width="130" height="110" rx="11" fill="#9ccef2"/><text y="20">Parch ≤ 1.5</text><text y="40">gini = 0.444</text><text y="60">samples = 3</text><text y="80">value = [1, 2]</text><text y="100">class = u</text></g>
<g id="n164" transform="translate(4960,1124.2)"><rect class="n" x="-65" width="130" height="92" rx="11" fill="#ffffff"/><text y="21">gini = 0.5</text><text y="41">samples = 2</text><text y="61">value = [1, 1]</text><text y="81">class = S</text></g>
<g id="n165" transform="translate(5113,1124.2)"><rect class="n" x="-65" width="130" height="92" rx="11" fill="#399de5"/><text y="21">gini = 0.0</text><text y="41">samples = 1</text><text y="61">value = [0, 1]</text><text y="81">class = u</text></g>
<g id="n166" transform="translate(4995,807)"><rect class="n" x="-65" width="130" height="92" rx="11" fill="#ffffff"/><text y="21">gini = 0.5</text><text y="41">samples = 2</text><text y="61">value = [1, 1]</text><text y="81">class = S</text></g>
<g id="n167" transform="translate(5071,480.8)"><rect class="n" x="-70" width="140" height="110" rx="11" fill="#3c9fe5"/><text y="20">Parch ≤ 1.5</text><text y="40">gini = 0.031</text><text y="60">samples = 64</text><text y="80">value = [1, 63]</text><text y="100">class = u</text></g>
<g id="n168" transform="translate(5070,648.4)"><rect class="n" x="-70" width="140" height="92" rx="11" fill="#399de5"/><text y="21">gini = 0.0</text><text y="41">samples = 54</text><text y="61">value = [0, 54]</text><text y="81">class = u</text></g>
<g id="n169" transform="translate(5267,639.4)"><rect class="n" x="-77" width="154" height="110" rx="11" fill="#4fa8e8"/><text y="20">Embarked ≤ 1.0</text><text y="40">gini = 0.18</text><text y="60">samples = 10</text><text y="80">value = [1, 9]</text><text y="100">class = u</text></g>
<g id="n170" transform="translate(5267,798)"><rect class="n" x="-65" width="130" height="110" rx="11" fill="#61b1ea"/><text y="20">SibSp ≤ 2.0</text><text y="40">gini = 0.278</text><text y="60">samples = 6</text><text y="80">value = [1, 5]</text><text y="100">class = u</text></g>
<g id="n171" transform="translate(5267,956.6)"><rect class="n" x="-65" width="130" height="110" rx="11" fill="#7bbeee"/><text y="20">Pclass ≤ 1.5</text><text y="40">gini = 0.375</text><text y="60">samples = 4</text><text y="80">value = [1, 3]</text><text y="100">class = u</text></g>
<g id="n172" transform="translate(5267,1115.2)"><rect class="n" x="-65" width="130" height="110" rx="11" fill="#9ccef2"/><text y="20">Age ≤ 0.5</text><text y="40">gini = 0.444</text><text y="60">samples = 3</text><text y="80">value = [1, 2]</text><text y="100">class = u</text></g>
<g id="n173" transform="translate(5190,1282.8)"><rect class="n" x="-65" width="130" height="92" rx="11" fill="#399de5"/><text y="21">gini = 0.0</text><text y="41">samples = 1</text><text y="61">value = [0, 1]</text><text y="81">class = u</text></g>
<g id="n174" transform="translate(5343,1282.8)"><rect class="n" x="-65" width="130" height="92" rx="11" fill="#ffffff"/><text y="21">gini = 0.5</text><text y="41">samples = 2</text><text y="61">value = [1, 1]</text><text y="81">class = S</text></g>
<g id="n175" transform="translate(5420,1124.2)"><rect class="n" x="-65" width="130" height="92" rx="11" fill="#399de5"/><text y="21">gini = 0.0</text><text y="41">samples = 1</text><text y="61">value = [0, 1]</text><text y="81">class = u</text></g>
<g id="n176" transform="translate(5420,965.6)"><rect class="n" x="-65" width="130" height="92" rx="11" fill="#399de5"/><text y="21">gini = 0.0</text><text y="41">samples = 2</text><text y="61">value = [0, 2]</text><text y="81">class = u</text></g>
<g id="n177" transform="translate(5420,807)"><rect class="n" x="-65" width="130" height="92" rx="11" fill="#399de5"/><text y="21">gini = 0.0</text><text y="41">samples = 4</text><text y="61">value = [0, 4]</text><text y="81">class = u</text></g>
<g id="n178" transform="translate(5987,322.2)"><rect class="n" x="-77" width="154" height="110" rx="11" fill="#fefaf8"/><text y="20">Embarked ≤ 0.5</text><text y="40">gini = 0.5</text><text y="60">samples = 108</text><text y="80">value = [55, 53]</text><text y="100">class = S</text></g>
<g id="n179" transform="translate(5987,480.8)"><rect class="n" x="-75" width="150" height="110" rx="11" fill="#f5cfb4"/><text y="20">SibSp ≤ 1.5</text><text y="40">gini = 0.472</text><text y="60">samples = 68</text><text y="80">value = [42, 26]</text><text y="100">class = S</text></g>
<g id="n180" transform="translate(5903,639.4)"><rect class="n" x="-75" width="150" height="110" rx="11" fill="#fbe9dd"/><text y="20">Parch ≤ 1.5</text><text y="40">gini = 0.496</text><text y="60">samples = 53</text><text y="80">value = [29, 24]</text><text y="100">class = S</text></g>
<g id="n181" transform="translate(5743,798)"><rect class="n" x="-75" width="150" height="110" rx="11" fill="#fef9f6"/><text y="20">Age ≤ 2.5</text><text y="40">gini = 0.5</text><text y="60">samples = 45</text><text y="80">value = [23, 22]</text><text y="100">class = S</text></g>
<g id="n182" transform="translate(5585,956.6)"><rect class="n" x="-75" width="150" height="110" rx="11" fill="#fdf4ee"/><text y="20">Age ≤ 1.5</text><text y="40">gini = 0.499</text><text y="60">samples = 44</text><text y="80">value = [23, 21]</text><text y="100">class = S</text></g>
<g id="n183" transform="translate(5584,1115.2)"><rect class="n" x="-75" width="150" height="110" rx="11" fill="#fef9f6"/><text y="20">Fare ≤ 1.5</text><text y="40">gini = 0.5</text><text y="60">samples = 43</text><text y="80">value = [22, 21]</text><text y="100">class = S</text></g>
<g id="n184" transform="translate(5546,1273.8)"><rect class="n" x="-75" width="150" height="110" rx="11" fill="#fbeade"/><text y="20">SibSp ≤ 0.5</text><text y="40">gini = 0.496</text><text y="60">samples = 33</text><text y="80">value = [18, 15]</text><text y="100">class = S</text></g>
<g id="n185" transform="translate(5191,1432.4)"><rect class="n" x="-75" width="150" height="110" rx="11" fill="#f1f8fd"/><text y="20">Parch ≤ 0.5</text><text y="40">gini = 0.499</text><text y="60">samples = 27</text><text y="80">value = [13, 14]</text><text y="100">class = u</text></g>
<g id="n186" transform="translate(4953,1591)"><rect class="n" x="-75" width="150" height="110" rx="11" fill="#ffffff"/><text y="20">Age ≤ 0.5</text><text y="40">gini = 0.5</text><text y="60">samples = 24</text><text y="80">value = [12, 12]</text><text y="100">class = S</text></g>
<g id="n187" transform="translate(4797,1749.6)"><rect class="n" x="-65" width="130" height="110" rx="11" fill="#ffffff"/><text y="20">Fare ≤ 0.5</text><text y="40">gini = 0.5</text><text y="60">samples = 6</text><text y="80">value = [3, 3]</text><text y="100">class = S</text></g>
<g id="n188" transform="translate(4645,1908)"><rect class="n" x="-65" width="130" height="92" rx="11" fill="#f2c09c"/><text y="21">gini = 0.444</text><text y="41">samples = 3</text><text y="61">value = [2, 1]</text><text y="81">class = S</text></g>
<g id="n189" transform="translate(4797,1908)"><rect class="n" x="-65" width="130" height="92" rx="11" fill="#9ccef2"/><text y="21">gini = 0.444</text><text y="41">samples = 3</text><text y="61">value = [1, 2]</text><text y="81">class = u</text></g>
<g id="n190" transform="translate(4956,1749.6)"><rect class="n" x="-67" width="134" height="110" rx="11" fill="#ffffff"/><text y="20">Fare ≤ 0.5</text><text y="40">gini = 0.5</text><text y="60">samples = 18</text><text y="80">value = [9, 9]</text><text y="100">class = S</text></g>
<g id="n191" transform="translate(4953,1908)"><rect class="n" x="-65" width="130" height="92" rx="11" fill="#d7ebfa"/><text y="21">gini = 0.494</text><text y="41">samples = 9</text><text y="61">value = [4, 5]</text><text y="81">class = u</text></g>
<g id="n192" transform="translate(5107,1908)"><rect class="n" x="-65" width="130" height="92" rx="11" fill="#fae6d7"/><text y="21">gini = 0.494</text><text y="41">samples = 9</text><text y="61">value = [5, 4]</text><text y="81">class = S</text></g>
<g id="n193" transform="translate(5190,1591)"><rect class="n" x="-65" width="130" height="110" rx="11" fill="#9ccef2"/><text y="20">Age ≤ 0.5</text><text y="40">gini = 0.444</text><text y="60">samples = 3</text><text y="80">value = [1, 2]</text><text y="100">class = u</text></g>
<g id="n194" transform="translate(5110,1758.6)"><rect class="n" x="-65" width="130" height="92" rx="11" fill="#ffffff"/><text y="21">gini = 0.5</text><text y="41">samples = 2</text><text y="61">value = [1, 1]</text><text y="81">class = S</text></g>
<g id="n195" transform="translate(5264,1758.6)"><rect class="n" x="-65" width="130" height="92" rx="11" fill="#399de5"/><text y="21">gini = 0.0</text><text y="41">samples = 1</text><text y="61">value = [0, 1]</text><text y="81">class = u</text></g>
<g id="n196" transform="translate(5546,1432.4)"><rect class="n" x="-65" width="130" height="110" rx="11" fill="#ea9a61"/><text y="20">Age ≤ 0.5</text><text y="40">gini = 0.278</text><text y="60">samples = 6</text><text y="80">value = [5, 1]</text><text y="100">class = S</text></g>
<g id="n197" transform="translate(5417,1591)"><rect class="n" x="-65" width="130" height="110" rx="11" fill="#ffffff"/><text y="20">Parch ≤ 0.5</text><text y="40">gini = 0.5</text><text y="60">samples = 2</text><text y="80">value = [1, 1]</text><text y="100">class = S</text></g>
<g id="n198" transform="translate(5419,1758.6)"><rect class="n" x="-65" width="130" height="92" rx="11" fill="#e58139"/><text y="21">gini = 0.0</text><text y="41">samples = 1</text><text y="61">value = [1, 0]</text><text y="81">class = S</text></g>
<g id="n199" transform="translate(5571,1758.6)"><rect class="n" x="-65" width="130" height="92" rx="11" fill="#399de5"/><text y="21">gini = 0.0</text><text y="41">samples = 1</text><text y="61">value = [0, 1]</text><text y="81">class = u</text></g>
<g id="n200" transform="translate(5570,1600)"><rect class="n" x="-65" width="130" height="92" rx="11" fill="#e58139"/><text y="21">gini = 0.0</text><text y="41">samples = 4</text><text y="61">value = [4, 0]</text><text y="81">class = S</text></g>
<g id="n201" transform="translate(5750,1273.8)"><rect class="n" x="-67" width="134" height="110" rx="11" fill="#bddef6"/><text y="20">Age ≤ 0.5</text><text y="40">gini = 0.48</text><text y="60">samples = 10</text><text y="80">value = [4, 6]</text><text y="100">class = u</text></g>
<g id="n202" transform="translate(5748,1432.4)"><rect class="n" x="-65" width="130" height="110" rx="11" fill="#ffffff"/><text y="20">Parch ≤ 0.5</text><text y="40">gini = 0.5</text><text y="60">samples = 2</text><text y="80">value = [1, 1]</text><text y="100">class = S</text></g>
<g id="n203" transform="translate(5723,1600)"><rect class="n" x="-65" width="130" height="92" rx="11" fill="#e58139"/><text y="21">gini = 0.0</text><text y="41">samples = 1</text><text y="61">value = [1, 0]</text><text y="81">class = S</text></g>
<g id="n204" transform="translate(5877,1600)"><rect class="n" x="-65" width="130" height="92" rx="11" fill="#399de5"/><text y="21">gini = 0.0</text><text y="41">samples = 1</text><text y="61">value = [0, 1]</text><text y="81">class = u</text></g>
<g id="n205" transform="translate(6030,1432.4)"><rect class="n" x="-65" width="130" height="110" rx="11" fill="#b0d8f5"/><text y="20">Parch ≤ 0.5</text><text y="40">gini = 0.469</text><text y="60">samples = 8</text><text y="80">value = [3, 5]</text><text y="100">class = u</text></g>
<g id="n206" transform="translate(6030,1600)"><rect class="n" x="-65" width="130" height="92" rx="11" fill="#9ccef2"/><text y="21">gini = 0.444</text><text y="41">samples = 6</text><text y="61">value = [2, 4]</text><text y="81">class = u</text></g>
<g id="n207" transform="translate(6184,1600)"><rect class="n" x="-65" width="130" height="92" rx="11" fill="#ffffff"/><text y="21">gini = 0.5</text><text y="41">samples = 2</text><text y="61">value = [1, 1]</text><text y="81">class = S</text></g>
<g id="n208" transform="translate(5748,1124.2)"><rect class="n" x="-65" width="130" height="92" rx="11" fill="#e58139"/><text y="21">gini = 0.0</text><text y="41">samples = 1</text><text y="61">value = [1, 0]</text><text y="81">class = S</text></g>
<g id="n209" transform="translate(5748,965.6)"><rect class="n" x="-65" width="130" height="92" rx="11" fill="#399de5"/><text y="21">gini = 0.0</text><text y="41">samples = 1</text><text y="61">value = [0, 1]</text><text y="81">class = u</text></g>
<g id="n210" transform="translate(5907,798)"><rect class="n" x="-65" width="130" height="110" rx="11" fill="#eeab7b"/><text y="20">Age ≤ 1.5</text><text y="40">gini = 0.375</text><text y="60">samples = 8</text><text y="80">value = [6, 2]</text><text y="100">class = S</text></g>
<g id="n211" transform="translate(5901,956.6)"><rect class="n" x="-65" width="130" height="110" rx="11" fill="#f6d5bd"/><text y="20">Age ≤ 0.5</text><text y="40">gini = 0.48</text><text y="60">samples = 5</text><text y="80">value = [3, 2]</text><text y="100">class = S</text></g>
<g id="n212" transform="translate(5901,1124.2)"><rect class="n" x="-65" width="130" height="92" rx="11" fill="#ffffff"/><text y="21">gini = 0.5</text><text y="41">samples = 2</text><text y="61">value = [1, 1]</text><text y="81">class = S</text></g>
<g id="n213" transform="translate(6055,1115.2)"><rect class="n" x="-65" width="130" height="110" rx="11" fill="#f2c09c"/><text y="20">Parch ≤ 3.5</text><text y="40">gini = 0.444</text><text y="60">samples = 3</text><text y="80">value = [2, 1]</text><text y="100">class = S</text></g>
<g id="n214" transform="translate(5980,1282.8)"><rect class="n" x="-65" width="130" height="92" rx="11" fill="#e58139"/><text y="21">gini = 0.0</text><text y="41">samples = 1</text><text y="61">value = [1, 0]</text><text y="81">class = S</text></g>
<g id="n215" transform="translate(6132,1282.8)"><rect class="n" x="-65" width="130" height="92" rx="11" fill="#ffffff"/><text y="21">gini = 0.5</text><text y="41">samples = 2</text><text y="61">value = [1, 1]</text><text y="81">class = S</text></g>
<g id="n216" transform="translate(6056,965.6)"><rect class="n" x="-65" width="130" height="92" rx="11" fill="#e58139"/><text y="21">gini = 0.0</text><text y="41">samples = 3</text><text y="61">value = [3, 0]</text><text y="81">class = S</text></g>
<g id="n217" transform="translate(6072,639.4)"><rect class="n" x="-70" width="140" height="110" rx="11" fill="#e99457"/><text y="20">Fare ≤ 1.5</text><text y="40">gini = 0.231</text><text y="60">samples = 15</text><text y="80">value = [13, 2]</text><text y="100">class = S</text></g>
<g id="n218" transform="translate(6067,807)"><rect class="n" x="-65" width="130" height="92" rx="11" fill="#399de5"/><text y="21">gini = 0.0</text><text y="41">samples = 1</text><text y="61">value = [0, 1]</text><text y="81">class = u</text></g>
<g id="n219" transform="translate(6228,798)"><rect class="n" x="-70" width="140" height="110" rx="11" fill="#e78b48"/><text y="20">Parch ≤ 0.5</text><text y="40">gini = 0.133</text><text y="60">samples = 14</text><text y="80">value = [13, 1]</text><text y="100">class = S</text></g>
<g id="n220" transform="translate(6208,956.6)"><rect class="n" x="-65" width="130" height="110" rx="11" fill="#ffffff"/><text y="20">Age ≤ 0.5</text><text y="40">gini = 0.5</text><text y="60">samples = 2</text><text y="80">value = [1, 1]</text><text y="100">class = S</text></g>
<g id="n221" transform="translate(6208,1124.2)"><rect class="n" x="-65" width="130" height="92" rx="11" fill="#e58139"/><text y="21">gini = 0.0</text><text y="41">samples = 1</text><text y="61">value = [1, 0]</text><text y="81">class = S</text></g>
<g id="n222" transform="translate(6361,1124.2)"><rect class="n" x="-65" width="130" height="92" rx="11" fill="#399de5"/><text y="21">gini = 0.0</text><text y="41">samples = 1</text><text y="61">value = [0, 1]</text><text y="81">class = u</text></g>
<g id="n223" transform="translate(6366,965.6)"><rect class="n" x="-70" width="140" height="92" rx="11" fill="#e58139"/><text y="21">gini = 0.0</text><text y="41">samples = 12</text><text y="61">value = [12, 0]</text><text y="81">class = S</text></g>
<g id="n224" transform="translate(6611,480.8)"><rect class="n" x="-70" width="140" height="110" rx="11" fill="#98ccf1"/><text y="20">Fare ≤ 1.5</text><text y="40">gini = 0.439</text><text y="60">samples = 40</text><text y="80">value = [13, 27]</text><text y="100">class = u</text></g>
<g id="n225" transform="translate(6612,639.4)"><rect class="n" x="-70" width="140" height="110" rx="11" fill="#6ab6ec"/><text y="20">Parch ≤ 1.0</text><text y="40">gini = 0.32</text><text y="60">samples = 20</text><text y="80">value = [4, 16]</text><text y="100">class = u</text></g>
<g id="n226" transform="translate(6530,798)"><rect class="n" x="-77" width="154" height="110" rx="11" fill="#5eafea"/><text y="20">Embarked ≤ 1.5</text><text y="40">gini = 0.266</text><text y="60">samples = 19</text><text y="80">value = [3, 16]</text><text y="100">class = u</text></g>
<g id="n227" transform="translate(6527,956.6)"><rect class="n" x="-70" width="140" height="110" rx="11" fill="#6ab6ec"/><text y="20">Age ≤ 0.5</text><text y="40">gini = 0.32</text><text y="60">samples = 15</text><text y="80">value = [3, 12]</text><text y="100">class = u</text></g>
<g id="n228" transform="translate(6523,1124.2)"><rect class="n" x="-65" width="130" height="92" rx="11" fill="#ffffff"/><text y="21">gini = 0.5</text><text y="41">samples = 2</text><text y="61">value = [1, 1]</text><text y="81">class = S</text></g>
<g id="n229" transform="translate(6682,1124.2)"><rect class="n" x="-70" width="140" height="92" rx="11" fill="#5dafea"/><text y="21">gini = 0.26</text><text y="41">samples = 13</text><text y="61">value = [2, 11]</text><text y="81">class = u</text></g>
<g id="n230" transform="translate(6689,965.6)"><rect class="n" x="-65" width="130" height="92" rx="11" fill="#399de5"/><text y="21">gini = 0.0</text><text y="41">samples = 4</text><text y="61">value = [0, 4]</text><text y="81">class = u</text></g>
<g id="n231" transform="translate(6697,807)"><rect class="n" x="-65" width="130" height="92" rx="11" fill="#e58139"/><text y="21">gini = 0.0</text><text y="41">samples = 1</text><text y="61">value = [1, 0]</text><text y="81">class = S</text></g>
<g id="n232" transform="translate(6848,639.4)"><rect class="n" x="-70" width="140" height="110" rx="11" fill="#dbedfa"/><text y="20">SibSp ≤ 1.5</text><text y="40">gini = 0.495</text><text y="60">samples = 20</text><text y="80">value = [9, 11]</text><text y="100">class = u</text></g>
<g id="n233" transform="translate(6855,798)"><rect class="n" x="-67" width="134" height="110" rx="11" fill="#f9e3d3"/><text y="20">Age ≤ 1.5</text><text y="40">gini = 0.492</text><text y="60">samples = 16</text><text y="80">value = [9, 7]</text><text y="100">class = S</text></g>
<g id="n234" transform="translate(6854,956.6)"><rect class="n" x="-67" width="134" height="110" rx="11" fill="#fcefe6"/><text y="20">Parch ≤ 3.5</text><text y="40">gini = 0.498</text><text y="60">samples = 15</text><text y="80">value = [8, 7]</text><text y="100">class = S</text></g>
<g id="n235" transform="translate(6850,1115.2)"><rect class="n" x="-67" width="134" height="110" rx="11" fill="#ffffff"/><text y="20">Parch ≤ 1.5</text><text y="40">gini = 0.5</text><text y="60">samples = 14</text><text y="80">value = [7, 7]</text><text y="100">class = S</text></g>
<g id="n236" transform="translate(6766,1273.8)"><rect class="n" x="-67" width="134" height="110" rx="11" fill="#f6d5bd"/><text y="20">SibSp ≤ 0.5</text><text y="40">gini = 0.48</text><text y="60">samples = 10</text><text y="80">value = [6, 4]</text><text y="100">class = S</text></g>
<g id="n237" transform="translate(6599,1441.4)"><rect class="n" x="-65" width="130" height="92" rx="11" fill="#e58139"/><text y="21">gini = 0.0</text><text y="41">samples = 2</text><text y="61">value = [2, 0]</text><text y="81">class = S</text></g>
<g id="n238" transform="translate(6766,1432.4)"><rect class="n" x="-77" width="154" height="110" rx="11" fill="#ffffff"/><text y="20">Embarked ≤ 1.5</text><text y="40">gini = 0.5</text><text y="60">samples = 8</text><text y="80">value = [4, 4]</text><text y="100">class = S</text></g>
<g id="n239" transform="translate(6689,1591)"><rect class="n" x="-65" width="130" height="110" rx="11" fill="#9ccef2"/><text y="20">Parch ≤ 0.5</text><text y="40">gini = 0.444</text><text y="60">samples = 3</text><text y="80">value = [1, 2]</text><text y="100">class = u</text></g>
<g id="n240" transform="translate(6536,1758.6)"><rect class="n" x="-65" width="130" height="92" rx="11" fill="#399de5"/><text y="21">gini = 0.0</text><text y="41">samples = 2</text><text y="61">value = [0, 2]</text><text y="81">class = u</text></g>
<g id="n241" transform="translate(6689,1758.6)"><rect class="n" x="-65" width="130" height="92" rx="11" fill="#e58139"/><text y="21">gini = 0.0</text><text y="41">samples = 1</text><text y="61">value = [1, 0]</text><text y="81">class = S</text></g>
<g id="n242" transform="translate(6842,1591)"><rect class="n" x="-65" width="130" height="110" rx="11" fill="#f6d5bd"/><text y="20">Parch ≤ 0.5</text><text y="40">gini = 0.48</text><text y="60">samples = 5</text><text y="80">value = [3, 2]</text><text y="100">class = S</text></g>
<g id="n243" transform="translate(6842,1749.6)"><rect class="n" x="-65" width="130" height="110" rx="11" fill="#eeab7b"/><text y="20">Age ≤ 0.5</text><text y="40">gini = 0.375</text><text y="60">samples = 4</text><text y="80">value = [3, 1]</text><text y="100">class = S</text></g>
<g id="n244" transform="translate(6765,1908)"><rect class="n" x="-65" width="130" height="92" rx="11" fill="#ffffff"/><text y="21">gini = 0.5</text><text y="41">samples = 2</text><text y="61">value = [1, 1]</text><text y="81">class = S</text></g>
<g id="n245" transform="translate(6919,1908)"><rect class="n" x="-65" width="130" height="92" rx="11" fill="#e58139"/><text y="21">gini = 0.0</text><text y="41">samples = 2</text><text y="61">value = [2, 0]</text><text y="81">class = S</text></g>
<g id="n246" transform="translate(6995,1758.6)"><rect class="n" x="-65" width="130" height="92" rx="11" fill="#399de5"/><text y="21">gini = 0.0</text><text y="41">samples = 1</text><text y="61">value = [0, 1]</text><text y="81">class = u</text></g>
<g id="n247" transform="translate(6932,1273.8)"><rect class="n" x="-65" width="130" height="110" rx="11" fill="#7bbeee"/><text y="20">Age ≤ 0.5</text><text y="40">gini = 0.375</text><text y="60">samples = 4</text><text y="80">value = [1, 3]</text><text y="100">class = u</text></g>
<g id="n248" transform="translate(6932,1441.4)"><rect class="n" x="-65" width="130" height="92" rx="11" fill="#399de5"/><text y="21">gini = 0.0</text><text y="41">samples = 1</text><text y="61">value = [0, 1]</text><text y="81">class = u</text></g>
<g id="n249" transform="translate(7085,1441.4)"><rect class="n" x="-65" width="130" height="92" rx="11" fill="#9ccef2"/><text y="21">gini = 0.444</text><text y="41">samples = 3</text><text y="61">value = [1, 2]</text><text y="81">class = u</text></g>
<g id="n250" transform="translate(7008,1124.2)"><rect class="n" x="-65" width="130" height="92" rx="11" fill="#e58139"/><text y="21">gini = 0.0</text><text y="41">samples = 1</text><text y="61">value = [1, 0]</text><text y="81">class = S</text></g>
<g id="n251" transform="translate(7011,965.6)"><rect class="n" x="-65" width="130" height="92" rx="11" fill="#e58139"/><text y="21">gini = 0.0</text><text y="41">samples = 1</text><text y="61">value = [1, 0]</text><text y="81">class = S</text></g>
<g id="n252" transform="translate(7011,807)"><rect class="n" x="-65" width="130" height="92" rx="11" fill="#399de5"/><text y="21">gini = 0.0</text><text y="41">samples = 4</text><text y="61">value = [0, 4]</text><text y="81">class = u</text></g>
</g>
</svg>
